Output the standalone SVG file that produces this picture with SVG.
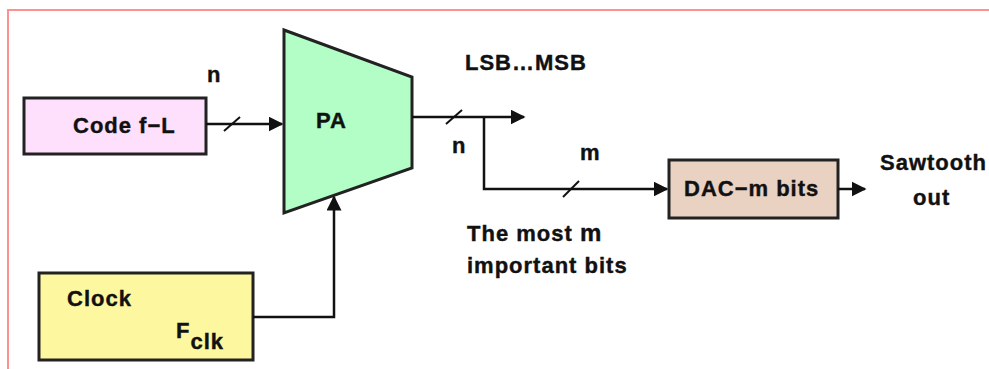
<svg xmlns="http://www.w3.org/2000/svg" width="989" height="369" viewBox="0 0 989 369">
<style>
text{font-family:"Liberation Sans",Arial,sans-serif;font-weight:bold;font-size:22px;letter-spacing:1px;fill:#111;stroke:#111;stroke-width:0.4}
.box{stroke:#222;stroke-width:3}
.wire{stroke:#111;stroke-width:2.5;fill:none}
.slash{stroke:#111;stroke-width:2;fill:none}
</style>
<defs>
<marker id="ah" viewBox="0 0 10 10" refX="9" refY="5" markerWidth="15" markerHeight="15" markerUnits="userSpaceOnUse" orient="auto">
<path d="M0,0 L10,5 L0,10 z" fill="#111"/>
</marker>
</defs>
<rect width="989" height="369" fill="#fff"/>
<path d="M8,369 V10 H989" fill="none" stroke="#ff9090" stroke-width="2"/>
<g id="code">
<rect class="box" x="24" y="98" width="182" height="56" fill="#ffe0fc"/>
<text x="73" y="133">Code f−L</text>
</g>
<g id="pa">
<polygon class="box" points="284,30 412,77 412,168 284,213" fill="#b3fdc6"/>
<text x="316" y="128">PA</text>
</g>
<g id="dac">
<rect class="box" x="669" y="160" width="169" height="58" fill="#e9d2c2"/>
<text x="684" y="196">DAC−m bits</text>
</g>
<g id="clock">
<rect class="box" x="39" y="273" width="214" height="87" fill="#fdf8a0"/>
<text x="67" y="306">Clock</text>
<text x="176" y="338">F<tspan dy="11">clk</tspan></text>
</g>
<g id="connectors">
<line class="wire" x1="206" y1="124" x2="282" y2="124" marker-end="url(#ah)"/>
<line class="slash" x1="224" y1="131" x2="240" y2="117"/>
<line class="wire" x1="412" y1="117" x2="524" y2="117" marker-end="url(#ah)"/>
<line class="slash" x1="446" y1="124" x2="462" y2="110"/>
<polyline class="wire" points="484,117 484,189 667,189" marker-end="url(#ah)"/>
<line class="slash" x1="563" y1="197" x2="579" y2="181"/>
<line class="wire" x1="838" y1="189" x2="865" y2="189" marker-end="url(#ah)"/>
<polyline class="wire" points="253,317 334,317 334,197" marker-end="url(#ah)"/>
</g>
<g id="labels">
<text x="207" y="82">n</text>
<text x="465" y="70">LSB…MSB</text>
<text x="452" y="153">n</text>
<text x="580" y="160">m</text>
<text x="880" y="170">Sawtooth</text>
<text x="913" y="205">out</text>
<text x="467" y="241">The most <tspan font-size="24">m</tspan></text>
<text x="467" y="273">important bits</text>
</g>
</svg>
